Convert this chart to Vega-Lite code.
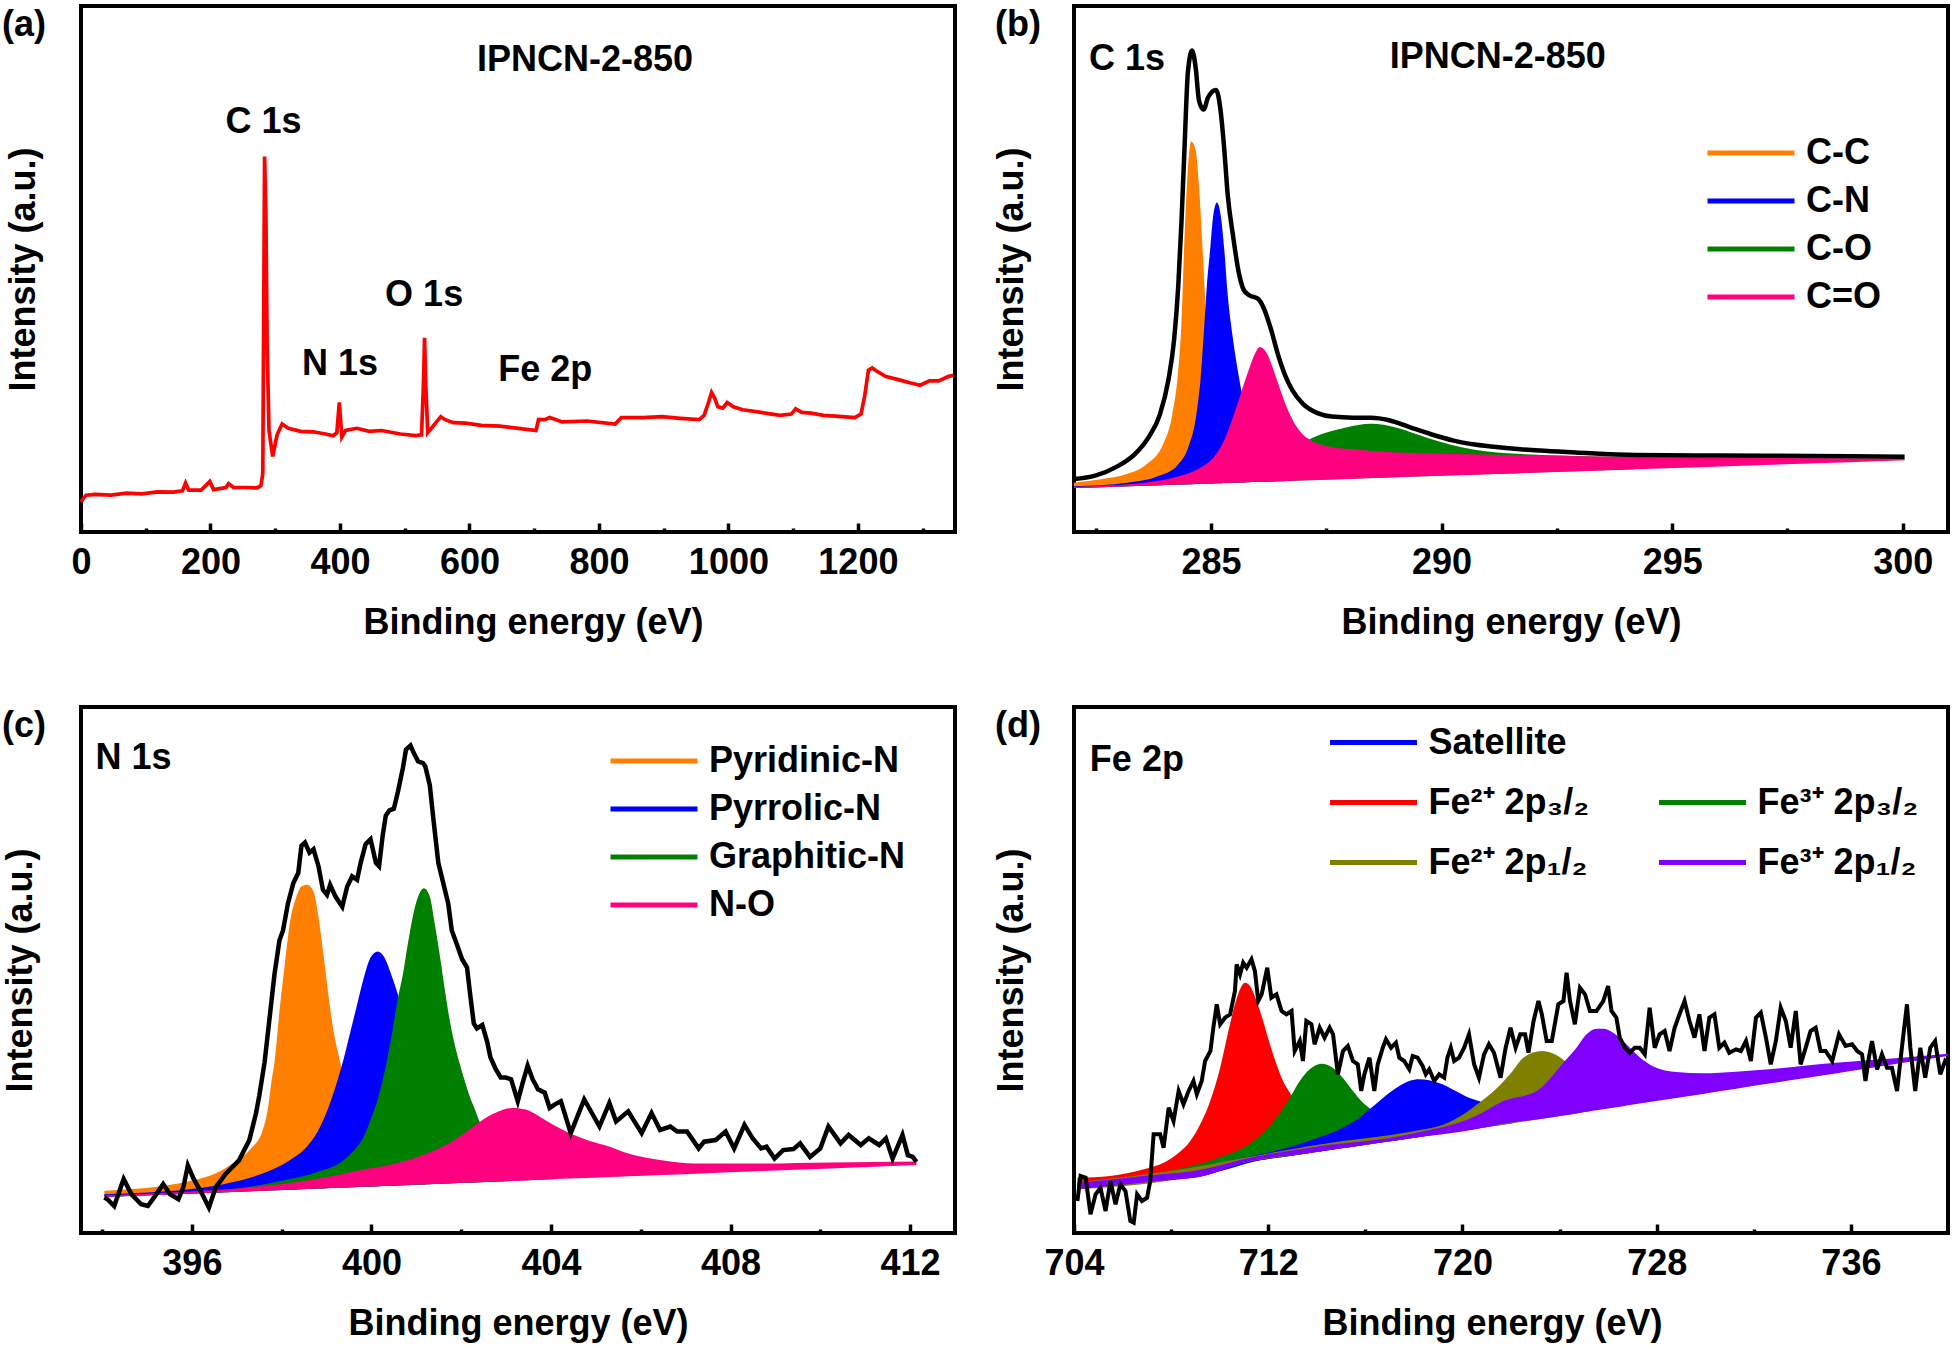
{
"$schema": "https://vega.github.io/schema/vega-lite/v6.json",
"padding": {"left": 0, "top": 4, "right": 0, "bottom": 0},
"background": "white",
"config": {
  "font": "Liberation Sans",
  "view": {"stroke": "black", "strokeWidth": 4},
  "axis": {"grid": false, "domain": false, "labelFont": "Liberation Sans", "labelFontSize": 36, "labelFontWeight": "bold", "labelColor": "black", "titleFont": "Liberation Sans", "titleFontSize": 36, "titleFontWeight": "bold", "titleColor": "black"},
  "axisX": {"tickColor": "black", "tickWidth": 3.5, "labelFlush": false, "labelOverlap": false, "labelPadding": 22.5, "titlePadding": 20},
  "axisY": {"labels": false, "ticks": false},
  "legend": {"orient": "none", "title": null, "labelFont": "Liberation Sans", "labelFontSize": 36, "labelFontWeight": "bold", "labelColor": "black", "labelLimit": 500, "symbolType": "M-3,0H3", "symbolSize": 841, "symbolStrokeWidth": 5, "symbolOffset": 29, "labelOffset": 37, "rowPadding": 12, "padding": 0, "offset": 0},
  "title": {"font": "Liberation Sans", "fontSize": 36, "fontWeight": "bold", "color": "black", "anchor": "start", "frame": "group", "baseline": "top", "offset": -38, "dx": -79}
},
"datasets": {
  "survey": [{"E":0,"top":30.3},{"E":7.7,"top":36.8},{"E":22.1,"top":37.6},{"E":46.2,"top":36.8},{"E":70.2,"top":38.9},{"E":94.2,"top":38.1},{"E":118.3,"top":40.2},{"E":142.3,"top":39.8},{"E":156.7,"top":41.1},{"E":161.5,"top":48.9},{"E":166.3,"top":41.9},{"E":185.6,"top":41.9},{"E":199,"top":50.6},{"E":204.8,"top":42.4},{"E":224,"top":44.5},{"E":227.9,"top":48.4},{"E":235.6,"top":44.5},{"E":252.9,"top":44.5},{"E":272.1,"top":44.1},{"E":277.9,"top":46.3},{"E":280.8,"top":58.3},{"E":282.7,"top":274.1},{"E":283.6,"top":375.5},{"E":285.6,"top":317.2},{"E":287.5,"top":187.8},{"E":290.4,"top":101.5},{"E":296.1,"top":75.6},{"E":302.9,"top":97.2},{"E":310.6,"top":108},{"E":320.2,"top":103.7},{"E":339.4,"top":100.6},{"E":358.6,"top":100.2},{"E":377.9,"top":98},{"E":389.4,"top":96.3},{"E":395.2,"top":99.3},{"E":399,"top":129.5},{"E":402.9,"top":95},{"E":408.6,"top":101.5},{"E":426,"top":103.7},{"E":445.2,"top":100.6},{"E":464.4,"top":101.5},{"E":493.3,"top":98},{"E":517.3,"top":96.3},{"E":526,"top":97.2},{"E":528.8,"top":144.6},{"E":530.7,"top":194.3},{"E":532.7,"top":144.6},{"E":535.6,"top":99.3},{"E":541.3,"top":103.7},{"E":549,"top":110.1},{"E":555.8,"top":115.3},{"E":562.5,"top":112.3},{"E":575,"top":109.3},{"E":594.2,"top":108.8},{"E":618.3,"top":106.7},{"E":647.1,"top":105.8},{"E":676,"top":103.7},{"E":702.9,"top":101.5},{"E":706.7,"top":112.3},{"E":716.3,"top":112.3},{"E":724,"top":114.4},{"E":743.2,"top":110.1},{"E":781.7,"top":111},{"E":825,"top":108},{"E":834.6,"top":114.4},{"E":868.2,"top":114.4},{"E":897.1,"top":115.3},{"E":925.9,"top":113.6},{"E":954.8,"top":112.3},{"E":962.5,"top":116.6},{"E":969.2,"top":129.5},{"E":974,"top":139.5},{"E":978.8,"top":133.9},{"E":983.6,"top":125.2},{"E":991.3,"top":123.9},{"E":998.1,"top":129.5},{"E":1007.6,"top":125.2},{"E":1022.1,"top":122.2},{"E":1050.9,"top":119.6},{"E":1079.8,"top":116.6},{"E":1097.1,"top":117.9},{"E":1103.8,"top":123.1},{"E":1113.4,"top":119.6},{"E":1127.8,"top":118.8},{"E":1147.1,"top":116.6},{"E":1171.1,"top":115.7},{"E":1195.1,"top":114.4},{"E":1204.8,"top":117.9},{"E":1210.5,"top":136},{"E":1216.3,"top":161.9},{"E":1222.1,"top":164.1},{"E":1228.8,"top":161},{"E":1243.2,"top":155.4},{"E":1262.5,"top":152.4},{"E":1281.7,"top":149},{"E":1296.1,"top":146.8},{"E":1310.5,"top":151.1},{"E":1324.9,"top":151.1},{"E":1339.4,"top":155.4},{"E":1347.1,"top":156.7}],
  "a_lab": [{"label":"IPNCN-2-850","E":778.6,"top":472},{"label":"C 1s","E":282,"top":410},{"label":"N 1s","E":400,"top":168.5},{"label":"O 1s","E":530,"top":237.5},{"label":"Fe 2p","E":717,"top":162}],
  "b_lab": [{"label":"C 1s","E":283.18,"top":473},{"label":"IPNCN-2-850","E":291.22,"top":474.6}],
  "c_lab": [{"label":"N 1s","E":394.7,"top":475}],
  "d_lab": [{"label":"Fe 2p","E":706.59,"top":473}],
  "b_env": [{"E":282.03,"top":52.9},{"E":282.49,"top":56.4},{"E":282.96,"top":65.4},{"E":283.35,"top":77.9},{"E":283.66,"top":95.7},{"E":283.89,"top":117.1},{"E":284.08,"top":152.9},{"E":284.2,"top":192.1},{"E":284.29,"top":245.7},{"E":284.36,"top":310},{"E":284.43,"top":388.6},{"E":284.5,"top":460},{"E":284.59,"top":481.4},{"E":284.67,"top":463.6},{"E":284.74,"top":431.4},{"E":284.84,"top":422.5},{"E":284.94,"top":435},{"E":285.11,"top":442.1},{"E":285.21,"top":420.7},{"E":285.29,"top":381.4},{"E":285.36,"top":338.6},{"E":285.48,"top":295.7},{"E":285.6,"top":260},{"E":285.71,"top":242.1},{"E":285.83,"top":236.8},{"E":286.02,"top":233.2},{"E":286.14,"top":224.3},{"E":286.3,"top":202.9},{"E":286.45,"top":177.9},{"E":286.61,"top":156.4},{"E":286.76,"top":142.1},{"E":287,"top":127.9},{"E":287.31,"top":118.9},{"E":287.62,"top":115.4},{"E":288.08,"top":114.3},{"E":288.47,"top":114.3},{"E":288.86,"top":111.8},{"E":289.32,"top":104.6},{"E":289.79,"top":97.5},{"E":290.26,"top":91.4},{"E":290.72,"top":87.5},{"E":291.34,"top":84.3},{"E":292.12,"top":81.4},{"E":292.9,"top":79.6},{"E":294.2,"top":77.1},{"E":296,"top":76.5},{"E":298,"top":76},{"E":300.04,"top":75.3}],
  "b_comp": [
    {"series":"C-C","E":282.03,"top":49.3,"base":43.9},{"series":"C-C","E":282.65,"top":52.9,"base":44.9},{"series":"C-C","E":283.19,"top":58.2,"base":45.7},{"series":"C-C","E":283.58,"top":67.1,"base":46.3},{"series":"C-C","E":283.97,"top":88.6,"base":46.9},{"series":"C-C","E":284.16,"top":117.1,"base":47.2},{"series":"C-C","E":284.28,"top":156.4,"base":47.4},{"series":"C-C","E":284.36,"top":210,"base":47.5},{"series":"C-C","E":284.43,"top":299.3,"base":47.6},{"series":"C-C","E":284.5,"top":363.6,"base":47.7},{"series":"C-C","E":284.57,"top":390.4,"base":47.8},{"series":"C-C","E":284.67,"top":381.4,"base":48},{"series":"C-C","E":284.74,"top":345.7,"base":48.1},{"series":"C-C","E":284.82,"top":281.4,"base":48.2},{"series":"C-C","E":284.9,"top":210,"base":48.3},{"series":"C-C","E":285.02,"top":138.6,"base":48.5},{"series":"C-C","E":285.13,"top":102.9,"base":48.7},{"series":"C-C","E":285.29,"top":81.4,"base":49},{"series":"C-C","E":285.6,"top":67.1,"base":49.4},{"series":"C-C","E":286.3,"top":60,"base":50.5},
    {"series":"C-N","E":282.03,"top":45.7,"base":43.9},{"series":"C-N","E":283.19,"top":49.3,"base":45.7},{"series":"C-N","E":283.89,"top":56.4,"base":46.8},{"series":"C-N","E":284.28,"top":67.1,"base":47.4},{"series":"C-N","E":284.51,"top":85,"base":47.7},{"series":"C-N","E":284.67,"top":113.6,"base":48},{"series":"C-N","E":284.78,"top":156.4,"base":48.2},{"series":"C-N","E":284.86,"top":210,"base":48.3},{"series":"C-N","E":284.91,"top":245.7,"base":48.4},{"series":"C-N","E":284.98,"top":281.4,"base":48.5},{"series":"C-N","E":285.05,"top":317.1,"base":48.6},{"series":"C-N","E":285.13,"top":329.6,"base":48.7},{"series":"C-N","E":285.21,"top":317.1,"base":48.8},{"series":"C-N","E":285.29,"top":281.4,"base":49},{"series":"C-N","E":285.36,"top":238.6,"base":49.1},{"series":"C-N","E":285.48,"top":192.1,"base":49.3},{"series":"C-N","E":285.6,"top":156.4,"base":49.4},{"series":"C-N","E":285.75,"top":120.7,"base":49.7},{"series":"C-N","E":285.91,"top":95.7,"base":49.9},{"series":"C-N","E":286.22,"top":74.3,"base":50.4},{"series":"C-N","E":286.68,"top":67.1,"base":51.1},
    {"series":"C-O","E":282.03,"top":45,"base":43.9},{"series":"C-O","E":284.36,"top":52.9,"base":47.5},{"series":"C-O","E":285.91,"top":70.7,"base":49.9},{"series":"C-O","E":286.68,"top":79.6,"base":51.1},{"series":"C-O","E":287.19,"top":93.9,"base":51.9},{"series":"C-O","E":287.93,"top":104.6,"base":53},{"series":"C-O","E":288.47,"top":108.2,"base":53.9},{"series":"C-O","E":289.01,"top":104.6,"base":54.7},{"series":"C-O","E":289.48,"top":97.5,"base":55.4},{"series":"C-O","E":289.95,"top":90.4,"base":56.2},{"series":"C-O","E":290.41,"top":85,"base":56.9},{"series":"C-O","E":290.95,"top":80.7,"base":57.7},{"series":"C-O","E":291.73,"top":77.9,"base":59},{"series":"C-O","E":292.9,"top":76.1,"base":60.7},{"series":"C-O","E":294.2,"top":75,"base":62.8},
    {"series":"C=O","E":282.03,"top":45,"base":43.9},{"series":"C=O","E":282.8,"top":46.4,"base":45.1},{"series":"C=O","E":283.58,"top":49.3,"base":46.3},{"series":"C=O","E":284.36,"top":56.4,"base":47.5},{"series":"C=O","E":284.74,"top":63.6,"base":48.1},{"series":"C=O","E":285.05,"top":74.3,"base":48.6},{"series":"C=O","E":285.29,"top":92.1,"base":49},{"series":"C=O","E":285.44,"top":110,"base":49.2},{"series":"C=O","E":285.6,"top":131.4,"base":49.4},{"series":"C=O","E":285.71,"top":147.5,"base":49.6},{"series":"C=O","E":285.83,"top":163.6,"base":49.8},{"series":"C=O","E":285.95,"top":177.9,"base":50},{"series":"C=O","E":286.06,"top":185,"base":50.1},{"series":"C=O","E":286.22,"top":177.9,"base":50.4},{"series":"C=O","E":286.37,"top":160,"base":50.6},{"series":"C=O","E":286.53,"top":138.6,"base":50.9},{"series":"C=O","E":286.68,"top":120.7,"base":51.1},{"series":"C=O","E":286.84,"top":106.4,"base":51.4},{"series":"C=O","E":286.99,"top":97.5,"base":51.6},{"series":"C=O","E":287.15,"top":92.1,"base":51.8},{"series":"C=O","E":287.31,"top":88.6,"base":52.1},{"series":"C=O","E":287.62,"top":85,"base":52.6},{"series":"C=O","E":288.24,"top":82.1,"base":53.5},{"series":"C=O","E":289.01,"top":79.6,"base":54.7},{"series":"C=O","E":289.79,"top":78.6,"base":55.9},{"series":"C=O","E":291.34,"top":77.1,"base":58.3},{"series":"C=O","E":294.2,"top":75,"base":62.8},{"series":"C=O","E":297,"top":74.2,"base":67.1},{"series":"C=O","E":300.04,"top":73.5,"base":71.8}
  ],
  "c_env": [{"E":394.05,"top":35.5},{"E":394.12,"top":33.8},{"E":394.27,"top":27},{"E":394.48,"top":54.1},{"E":394.65,"top":38.9},{"E":394.87,"top":28.7},{"E":395.02,"top":27},{"E":395.21,"top":38.9},{"E":395.36,"top":49},{"E":395.51,"top":38.9},{"E":395.7,"top":33.8},{"E":395.81,"top":45.6},{"E":395.91,"top":67.6},{"E":396.04,"top":54.1},{"E":396.23,"top":38.9},{"E":396.38,"top":25.3},{"E":396.53,"top":45.6},{"E":396.75,"top":59.1},{"E":397.05,"top":72.7},{"E":397.28,"top":92.9},{"E":397.43,"top":120},{"E":397.5,"top":136.9},{"E":397.62,"top":170.7},{"E":397.73,"top":214.7},{"E":397.84,"top":258.6},{"E":397.95,"top":292.4},{"E":398.03,"top":302.6},{"E":398.14,"top":329.6},{"E":398.26,"top":349.9},{"E":398.37,"top":360},{"E":398.44,"top":387.1},{"E":398.52,"top":390.5},{"E":398.62,"top":380.3},{"E":398.71,"top":383.7},{"E":398.82,"top":366.8},{"E":398.92,"top":343.1},{"E":399.01,"top":338.1},{"E":399.08,"top":348.2},{"E":399.2,"top":336.4},{"E":399.35,"top":326.2},{"E":399.46,"top":346.5},{"E":399.57,"top":356.6},{"E":399.68,"top":353.3},{"E":399.76,"top":370.2},{"E":399.87,"top":388.8},{"E":399.98,"top":393.8},{"E":400.1,"top":370.2},{"E":400.17,"top":366.8},{"E":400.25,"top":397.2},{"E":400.32,"top":417.5},{"E":400.4,"top":422.6},{"E":400.5,"top":424.3},{"E":400.59,"top":441.2},{"E":400.7,"top":464.8},{"E":400.77,"top":483.4},{"E":400.87,"top":487.5},{"E":400.96,"top":478.4},{"E":401.04,"top":471.6},{"E":401.15,"top":469.9},{"E":401.2,"top":466.5},{"E":401.3,"top":447.9},{"E":401.38,"top":414.1},{"E":401.49,"top":370.2},{"E":401.6,"top":349.9},{"E":401.71,"top":329.6},{"E":401.79,"top":302.6},{"E":401.9,"top":289},{"E":402.02,"top":273.8},{"E":402.13,"top":265.4},{"E":402.2,"top":238.3},{"E":402.28,"top":209.6},{"E":402.35,"top":204.5},{"E":402.47,"top":207.9},{"E":402.58,"top":191},{"E":402.65,"top":175.8},{"E":402.77,"top":163.9},{"E":402.88,"top":155.5},{"E":402.99,"top":155.5},{"E":403.11,"top":153.8},{"E":403.26,"top":131.8},{"E":403.37,"top":150.4},{"E":403.48,"top":167.3},{"E":403.59,"top":153.8},{"E":403.71,"top":143.7},{"E":403.86,"top":140.3},{"E":403.97,"top":125.1},{"E":404.08,"top":128.4},{"E":404.22,"top":131.8},{"E":404.44,"top":99.8},{"E":404.74,"top":133.5},{"E":405.08,"top":106.5},{"E":405.3,"top":130.1},{"E":405.45,"top":111.6},{"E":405.72,"top":121.7},{"E":406.02,"top":99.8},{"E":406.24,"top":120},{"E":406.43,"top":103.1},{"E":406.66,"top":106.5},{"E":406.81,"top":101.5},{"E":407.03,"top":101.5},{"E":407.29,"top":84.6},{"E":407.41,"top":91.3},{"E":407.67,"top":93},{"E":407.89,"top":101.5},{"E":408.08,"top":84.6},{"E":408.31,"top":108.2},{"E":408.49,"top":94.7},{"E":408.68,"top":84.6},{"E":408.8,"top":86.3},{"E":408.98,"top":74.4},{"E":409.17,"top":82.9},{"E":409.4,"top":83.9},{"E":409.55,"top":89.6},{"E":409.77,"top":76.1},{"E":410,"top":84.6},{"E":410.18,"top":106.5},{"E":410.45,"top":89.6},{"E":410.63,"top":98.1},{"E":410.9,"top":88},{"E":411.08,"top":94.7},{"E":411.31,"top":88},{"E":411.46,"top":94.7},{"E":411.61,"top":74.4},{"E":411.83,"top":98.1},{"E":411.95,"top":77.8},{"E":412.06,"top":76.1},{"E":412.14,"top":71.1}],
  "c_comp": [
    {"series":"Pyridinic-N","E":394.05,"top":42.2,"base":36},{"series":"Pyridinic-N","E":394.65,"top":43.9,"base":37.1},{"series":"Pyridinic-N","E":395.4,"top":47.3,"base":38.4},{"series":"Pyridinic-N","E":396,"top":52.4,"base":39.5},{"series":"Pyridinic-N","E":396.53,"top":59.8,"base":40.4},{"series":"Pyridinic-N","E":396.9,"top":69.3,"base":41},{"series":"Pyridinic-N","E":397.28,"top":82.8,"base":41.7},{"series":"Pyridinic-N","E":397.58,"top":103.1,"base":42.2},{"series":"Pyridinic-N","E":397.69,"top":123.4,"base":42.4},{"series":"Pyridinic-N","E":397.77,"top":150.4,"base":42.6},{"series":"Pyridinic-N","E":397.84,"top":170.7,"base":42.7},{"series":"Pyridinic-N","E":397.95,"top":221.4,"base":42.9},{"series":"Pyridinic-N","E":398.07,"top":268.7,"base":43.1},{"series":"Pyridinic-N","E":398.18,"top":309.3,"base":43.3},{"series":"Pyridinic-N","E":398.33,"top":336.4,"base":43.6},{"series":"Pyridinic-N","E":398.44,"top":346.5,"base":43.8},{"series":"Pyridinic-N","E":398.57,"top":348.2,"base":44},{"series":"Pyridinic-N","E":398.71,"top":341.4,"base":44.2},{"series":"Pyridinic-N","E":398.82,"top":316.1,"base":44.4},{"series":"Pyridinic-N","E":398.93,"top":278.9,"base":44.6},{"series":"Pyridinic-N","E":399.05,"top":234.9,"base":44.9},{"series":"Pyridinic-N","E":399.16,"top":201.1,"base":45},{"series":"Pyridinic-N","E":399.27,"top":177.5,"base":45.2},{"series":"Pyridinic-N","E":399.38,"top":157.2,"base":45.4},{"series":"Pyridinic-N","E":399.53,"top":136.9,"base":45.7},{"series":"Pyridinic-N","E":399.76,"top":116.6,"base":46.1},{"series":"Pyridinic-N","E":400.06,"top":99.7,"base":46.6},{"series":"Pyridinic-N","E":400.66,"top":79.4,"base":47.7},{"series":"Pyridinic-N","E":401.79,"top":62.5,"base":49.7},{"series":"Pyridinic-N","E":403.29,"top":54.1,"base":52.4},
    {"series":"Pyrrolic-N","E":394.05,"top":38.8,"base":36},{"series":"Pyrrolic-N","E":395.02,"top":40.5,"base":37.7},{"series":"Pyrrolic-N","E":396,"top":43.9,"base":39.5},{"series":"Pyrrolic-N","E":396.9,"top":50.7,"base":41},{"series":"Pyrrolic-N","E":397.65,"top":60.8,"base":42.4},{"series":"Pyrrolic-N","E":398.18,"top":72.7,"base":43.3},{"series":"Pyrrolic-N","E":398.56,"top":86.2,"base":44},{"series":"Pyrrolic-N","E":398.78,"top":99.7,"base":44.4},{"series":"Pyrrolic-N","E":398.93,"top":113.2,"base":44.6},{"series":"Pyrrolic-N","E":399.08,"top":130.1,"base":44.9},{"series":"Pyrrolic-N","E":399.23,"top":150.4,"base":45.2},{"series":"Pyrrolic-N","E":399.38,"top":174.1,"base":45.4},{"series":"Pyrrolic-N","E":399.53,"top":201.1,"base":45.7},{"series":"Pyrrolic-N","E":399.68,"top":228.2,"base":46},{"series":"Pyrrolic-N","E":399.83,"top":255.2,"base":46.2},{"series":"Pyrrolic-N","E":399.98,"top":275.5,"base":46.5},{"series":"Pyrrolic-N","E":400.14,"top":281.6,"base":46.8},{"series":"Pyrrolic-N","E":400.29,"top":275.5,"base":47},{"series":"Pyrrolic-N","E":400.44,"top":258.6,"base":47.3},{"series":"Pyrrolic-N","E":400.59,"top":238.3,"base":47.6},{"series":"Pyrrolic-N","E":400.74,"top":211.3,"base":47.8},{"series":"Pyrrolic-N","E":400.89,"top":184.2,"base":48.1},{"series":"Pyrrolic-N","E":401.04,"top":160.6,"base":48.4},{"series":"Pyrrolic-N","E":401.26,"top":133.5,"base":48.8},{"series":"Pyrrolic-N","E":401.56,"top":109.8,"base":49.3},{"series":"Pyrrolic-N","E":401.94,"top":89.6,"base":50},{"series":"Pyrrolic-N","E":402.54,"top":72.7,"base":51},{"series":"Pyrrolic-N","E":403.29,"top":62.5,"base":52.4},
    {"series":"Graphitic-N","E":394.05,"top":37.2,"base":36},{"series":"Graphitic-N","E":395.77,"top":40.5,"base":39},{"series":"Graphitic-N","E":396.9,"top":43.9,"base":41},{"series":"Graphitic-N","E":398.03,"top":52.4,"base":43},{"series":"Graphitic-N","E":398.78,"top":60.8,"base":44.4},{"series":"Graphitic-N","E":399.38,"top":72.7,"base":45.4},{"series":"Graphitic-N","E":399.68,"top":86.2,"base":46},{"series":"Graphitic-N","E":399.83,"top":96.3,"base":46.2},{"series":"Graphitic-N","E":399.98,"top":113.2,"base":46.5},{"series":"Graphitic-N","E":400.14,"top":133.5,"base":46.8},{"series":"Graphitic-N","E":400.29,"top":160.6,"base":47},{"series":"Graphitic-N","E":400.44,"top":194.4,"base":47.3},{"series":"Graphitic-N","E":400.59,"top":234.9,"base":47.6},{"series":"Graphitic-N","E":400.7,"top":258.6,"base":47.8},{"series":"Graphitic-N","E":400.81,"top":289,"base":48},{"series":"Graphitic-N","E":400.92,"top":316.1,"base":48.2},{"series":"Graphitic-N","E":401.04,"top":336.4,"base":48.4},{"series":"Graphitic-N","E":401.17,"top":344.8,"base":48.6},{"series":"Graphitic-N","E":401.3,"top":336.4,"base":48.8},{"series":"Graphitic-N","E":401.41,"top":309.3,"base":49},{"series":"Graphitic-N","E":401.53,"top":275.5,"base":49.2},{"series":"Graphitic-N","E":401.64,"top":241.7,"base":49.4},{"series":"Graphitic-N","E":401.75,"top":211.3,"base":49.6},{"series":"Graphitic-N","E":401.86,"top":187.6,"base":49.8},{"series":"Graphitic-N","E":401.98,"top":167.3,"base":50},{"series":"Graphitic-N","E":402.09,"top":150.4,"base":50.2},{"series":"Graphitic-N","E":402.2,"top":135.2,"base":50.4},{"series":"Graphitic-N","E":402.32,"top":121.7,"base":50.6},{"series":"Graphitic-N","E":402.39,"top":113.2,"base":50.8},{"series":"Graphitic-N","E":402.69,"top":92.9,"base":51.3},{"series":"Graphitic-N","E":403.29,"top":72.7,"base":52.4},{"series":"Graphitic-N","E":404.05,"top":62.5,"base":53.7},
    {"series":"N-O","E":394.05,"top":37.5,"base":36},{"series":"N-O","E":395.02,"top":39.5,"base":37.7},{"series":"N-O","E":395.77,"top":41,"base":39},{"series":"N-O","E":396.53,"top":43,"base":40.4},{"series":"N-O","E":397.28,"top":45.6,"base":41.7},{"series":"N-O","E":398.03,"top":49,"base":43},{"series":"N-O","E":398.78,"top":54.1,"base":44.4},{"series":"N-O","E":399.53,"top":60.8,"base":45.7},{"series":"N-O","E":399.91,"top":64.2,"base":46.4},{"series":"N-O","E":400.29,"top":66.9,"base":47},{"series":"N-O","E":400.66,"top":71,"base":47.7},{"series":"N-O","E":401.04,"top":76,"base":48.4},{"series":"N-O","E":401.41,"top":82.8,"base":49},{"series":"N-O","E":401.79,"top":91.3,"base":49.7},{"series":"N-O","E":402.17,"top":103.1,"base":50.4},{"series":"N-O","E":402.54,"top":114.9,"base":51},{"series":"N-O","E":402.84,"top":121.7,"base":51.6},{"series":"N-O","E":403.14,"top":125.1,"base":52.1},{"series":"N-O","E":403.44,"top":123.4,"base":52.6},{"series":"N-O","E":403.74,"top":116.6,"base":53.2},{"series":"N-O","E":404.05,"top":108.2,"base":53.7},{"series":"N-O","E":404.42,"top":99.7,"base":54.4},{"series":"N-O","E":404.8,"top":93,"base":55},{"series":"N-O","E":405.31,"top":86.2,"base":55.9},{"series":"N-O","E":405.72,"top":79.5,"base":56.7},{"series":"N-O","E":406.47,"top":72.7,"base":58},{"series":"N-O","E":407.22,"top":69.4,"base":59.3},{"series":"N-O","E":408.72,"top":69.4,"base":62},{"series":"N-O","E":410.22,"top":70.4,"base":64.6},{"series":"N-O","E":412.14,"top":71.5,"base":68}
  ],
  "d_env": [{"E":704.14,"top":32},{"E":704.27,"top":57},{"E":704.48,"top":55.3},{"E":704.68,"top":18.7},{"E":704.89,"top":38.7},{"E":705.09,"top":45.3},{"E":705.3,"top":22},{"E":705.5,"top":52},{"E":705.71,"top":28.7},{"E":705.91,"top":48.7},{"E":706.12,"top":42},{"E":706.32,"top":12},{"E":706.46,"top":10.3},{"E":706.6,"top":38.7},{"E":706.8,"top":32},{"E":707.01,"top":35.3},{"E":707.14,"top":52},{"E":707.28,"top":98.7},{"E":707.55,"top":98.7},{"E":707.69,"top":85.3},{"E":707.9,"top":125.3},{"E":708.1,"top":112},{"E":708.31,"top":142},{"E":708.51,"top":128.7},{"E":708.72,"top":142},{"E":708.92,"top":152},{"E":709.06,"top":138.7},{"E":709.26,"top":152},{"E":709.4,"top":172},{"E":709.62,"top":182},{"E":709.74,"top":205.3},{"E":709.88,"top":228.7},{"E":710.02,"top":208.7},{"E":710.22,"top":215.3},{"E":710.43,"top":218.7},{"E":710.63,"top":242},{"E":710.7,"top":268.7},{"E":710.84,"top":258.7},{"E":710.97,"top":270.3},{"E":711.11,"top":265.3},{"E":711.31,"top":273.7},{"E":711.45,"top":262},{"E":711.59,"top":232},{"E":711.73,"top":238.7},{"E":711.96,"top":265.3},{"E":712.13,"top":235.3},{"E":712.34,"top":238.7},{"E":712.55,"top":222},{"E":712.75,"top":218.7},{"E":712.96,"top":222},{"E":713.09,"top":182},{"E":713.3,"top":192},{"E":713.43,"top":172},{"E":713.57,"top":212},{"E":713.78,"top":208.7},{"E":713.91,"top":188.7},{"E":714.12,"top":205.3},{"E":714.32,"top":195.3},{"E":714.53,"top":205.3},{"E":714.67,"top":198.7},{"E":714.87,"top":158.7},{"E":715.08,"top":182},{"E":715.28,"top":187},{"E":715.49,"top":172},{"E":715.69,"top":168.7},{"E":715.83,"top":142},{"E":715.96,"top":158.7},{"E":716.17,"top":175.3},{"E":716.37,"top":142},{"E":716.51,"top":168.7},{"E":716.72,"top":185.3},{"E":716.85,"top":193.7},{"E":717.06,"top":185.3},{"E":717.26,"top":190.3},{"E":717.4,"top":175.3},{"E":717.6,"top":172},{"E":717.81,"top":163.7},{"E":717.95,"top":177},{"E":718.15,"top":175.3},{"E":718.36,"top":167},{"E":718.49,"top":158.7},{"E":718.63,"top":163.7},{"E":718.84,"top":152},{"E":719.04,"top":158.7},{"E":719.25,"top":155.3},{"E":719.38,"top":175.3},{"E":719.52,"top":185.3},{"E":719.66,"top":172},{"E":719.86,"top":175.3},{"E":720.07,"top":185.3},{"E":720.27,"top":198.7},{"E":720.48,"top":168.7},{"E":720.68,"top":155.3},{"E":720.89,"top":178.7},{"E":721.09,"top":188.7},{"E":721.3,"top":180.3},{"E":721.57,"top":155.3},{"E":721.78,"top":185.3},{"E":721.98,"top":205.3},{"E":722.19,"top":185.3},{"E":722.38,"top":198.7},{"E":722.58,"top":198.7},{"E":722.72,"top":180.3},{"E":722.93,"top":212},{"E":723.13,"top":232},{"E":723.27,"top":218.7},{"E":723.47,"top":192},{"E":723.68,"top":192},{"E":723.95,"top":228.7},{"E":724.16,"top":232},{"E":724.29,"top":260.3},{"E":724.43,"top":232},{"E":724.63,"top":208.7},{"E":724.84,"top":245.3},{"E":725.05,"top":238.7},{"E":725.25,"top":222},{"E":725.52,"top":222},{"E":725.8,"top":232},{"E":726,"top":247},{"E":726.14,"top":222},{"E":726.34,"top":215.3},{"E":726.48,"top":195.3},{"E":726.69,"top":185.3},{"E":726.89,"top":180.3},{"E":727.1,"top":185.3},{"E":727.3,"top":185.3},{"E":727.51,"top":178.7},{"E":727.71,"top":225.3},{"E":727.92,"top":185.3},{"E":728.12,"top":198.7},{"E":728.33,"top":202},{"E":728.53,"top":182},{"E":728.74,"top":205.3},{"E":728.94,"top":218.7},{"E":729.15,"top":232},{"E":729.35,"top":212},{"E":729.56,"top":195.3},{"E":729.76,"top":218.7},{"E":729.97,"top":182},{"E":730.17,"top":215.3},{"E":730.38,"top":218.7},{"E":730.58,"top":185.3},{"E":730.79,"top":190.3},{"E":730.99,"top":180.3},{"E":731.27,"top":183.7},{"E":731.47,"top":182},{"E":731.68,"top":192},{"E":731.88,"top":172},{"E":732.09,"top":215.3},{"E":732.29,"top":220.3},{"E":732.5,"top":195.3},{"E":732.7,"top":168.7},{"E":732.91,"top":192},{"E":733.11,"top":225.3},{"E":733.32,"top":212},{"E":733.52,"top":185.3},{"E":733.73,"top":222},{"E":733.93,"top":168.7},{"E":734.14,"top":185.3},{"E":734.34,"top":202},{"E":734.55,"top":205.3},{"E":734.75,"top":182},{"E":734.96,"top":182},{"E":735.23,"top":172},{"E":735.51,"top":198.7},{"E":735.78,"top":187},{"E":736.05,"top":188.7},{"E":736.26,"top":182},{"E":736.46,"top":178.7},{"E":736.6,"top":152},{"E":736.74,"top":175.3},{"E":736.87,"top":192},{"E":737.08,"top":163.7},{"E":737.28,"top":178.7},{"E":737.49,"top":165.3},{"E":737.69,"top":165.3},{"E":737.9,"top":142},{"E":738.1,"top":185.3},{"E":738.31,"top":228.7},{"E":738.45,"top":185.3},{"E":738.65,"top":142},{"E":738.86,"top":185.3},{"E":739.06,"top":155.3},{"E":739.27,"top":185.3},{"E":739.47,"top":192},{"E":739.68,"top":158.7},{"E":739.88,"top":172},{"E":740,"top":168.7}],
  "d_comp": [
    {"series":"Fe²⁺ 2p₃/₂","E":704.14,"top":55.3,"base":43.7},{"series":"Fe²⁺ 2p₃/₂","E":705.5,"top":57,"base":47.1},{"series":"Fe²⁺ 2p₃/₂","E":706.87,"top":63.7,"base":50.6},{"series":"Fe²⁺ 2p₃/₂","E":707.69,"top":70.3,"base":52.6},{"series":"Fe²⁺ 2p₃/₂","E":708.24,"top":78.7,"base":54},{"series":"Fe²⁺ 2p₃/₂","E":708.79,"top":92,"base":55.4},{"series":"Fe²⁺ 2p₃/₂","E":709.2,"top":108.7,"base":56.4},{"series":"Fe²⁺ 2p₃/₂","E":709.61,"top":132,"base":59.3},{"series":"Fe²⁺ 2p₃/₂","E":710.02,"top":165.3,"base":62.6},{"series":"Fe²⁺ 2p₃/₂","E":710.36,"top":202,"base":65.4},{"series":"Fe²⁺ 2p₃/₂","E":710.63,"top":228.7,"base":67.5},{"series":"Fe²⁺ 2p₃/₂","E":710.84,"top":243.7,"base":69.2},{"series":"Fe²⁺ 2p₃/₂","E":711.04,"top":250.3,"base":70.5},{"series":"Fe²⁺ 2p₃/₂","E":711.25,"top":247,"base":71.3},{"series":"Fe²⁺ 2p₃/₂","E":711.52,"top":232,"base":72.3},{"series":"Fe²⁺ 2p₃/₂","E":711.79,"top":212,"base":73.2},{"series":"Fe²⁺ 2p₃/₂","E":712.07,"top":188.7,"base":74.2},{"series":"Fe²⁺ 2p₃/₂","E":712.34,"top":168.7,"base":75.2},{"series":"Fe²⁺ 2p₃/₂","E":712.61,"top":152,"base":76.1},{"series":"Fe²⁺ 2p₃/₂","E":712.89,"top":140.3,"base":77.1},{"series":"Fe²⁺ 2p₃/₂","E":713.3,"top":123.7,"base":78.6},{"series":"Fe²⁺ 2p₃/₂","E":713.84,"top":105.3,"base":80.5},{"series":"Fe²⁺ 2p₃/₂","E":714.53,"top":88.7,"base":83},
    {"series":"Fe³⁺ 2p₃/₂","E":704.14,"top":50.3,"base":43.7},{"series":"Fe³⁺ 2p₃/₂","E":706.87,"top":57,"base":50.6},{"series":"Fe³⁺ 2p₃/₂","E":708.24,"top":63.7,"base":54},{"series":"Fe³⁺ 2p₃/₂","E":709.33,"top":70.3,"base":57},{"series":"Fe³⁺ 2p₃/₂","E":710.15,"top":77,"base":63.6},{"series":"Fe³⁺ 2p₃/₂","E":710.97,"top":85.3,"base":70.3},{"series":"Fe³⁺ 2p₃/₂","E":711.79,"top":100.3,"base":73.2},{"series":"Fe³⁺ 2p₃/₂","E":712.34,"top":115.3,"base":75.2},{"series":"Fe³⁺ 2p₃/₂","E":712.89,"top":135.3,"base":77.1},{"series":"Fe³⁺ 2p₃/₂","E":713.3,"top":152,"base":78.6},{"series":"Fe³⁺ 2p₃/₂","E":713.71,"top":163.7,"base":80},{"series":"Fe³⁺ 2p₃/₂","E":714.19,"top":169.3,"base":81.7},{"series":"Fe³⁺ 2p₃/₂","E":714.66,"top":165.3,"base":83.4},{"series":"Fe³⁺ 2p₃/₂","E":715.07,"top":155.3,"base":84.9},{"series":"Fe³⁺ 2p₃/₂","E":715.49,"top":142,"base":86.3},{"series":"Fe³⁺ 2p₃/₂","E":715.9,"top":130.3,"base":87.8},{"series":"Fe³⁺ 2p₃/₂","E":716.24,"top":123.7,"base":89},{"series":"Fe³⁺ 2p₃/₂","E":716.72,"top":113.7,"base":90.7},{"series":"Fe³⁺ 2p₃/₂","E":717.26,"top":105.3,"base":92.6},{"series":"Fe³⁺ 2p₃/₂","E":717.81,"top":100.3,"base":94.6},{"series":"Fe³⁺ 2p₃/₂","E":718.49,"top":98,"base":97},
    {"series":"Satellite","E":704.14,"top":50.3,"base":43.7},{"series":"Satellite","E":706.87,"top":57,"base":50.6},{"series":"Satellite","E":709.61,"top":68.7,"base":59.3},{"series":"Satellite","E":711.66,"top":78.7,"base":72.8},{"series":"Satellite","E":713.02,"top":87,"base":77.6},{"series":"Satellite","E":714.25,"top":97,"base":81.9},{"series":"Satellite","E":715.07,"top":105.3,"base":84.9},{"series":"Satellite","E":715.76,"top":115.3,"base":87.3},{"series":"Satellite","E":716.17,"top":123.7,"base":88.8},{"series":"Satellite","E":716.58,"top":132,"base":90.2},{"series":"Satellite","E":716.99,"top":140.3,"base":91.7},{"series":"Satellite","E":717.4,"top":147,"base":93.1},{"series":"Satellite","E":717.81,"top":152,"base":94.6},{"series":"Satellite","E":718.22,"top":153.7,"base":96},{"series":"Satellite","E":718.63,"top":152.7,"base":97.5},{"series":"Satellite","E":719.18,"top":148.7,"base":99.4},{"series":"Satellite","E":719.72,"top":142,"base":101.4},{"series":"Satellite","E":720.27,"top":135.3,"base":103.3},{"series":"Satellite","E":720.68,"top":132,"base":104.8},{"series":"Satellite","E":721.37,"top":125.3,"base":107.2},{"series":"Satellite","E":722.19,"top":120.3,"base":110.2},
    {"series":"Fe²⁺ 2p₁/₂","E":704.14,"top":50.8,"base":43.7},{"series":"Fe²⁺ 2p₁/₂","E":708.24,"top":63,"base":54},{"series":"Fe²⁺ 2p₁/₂","E":710.97,"top":75,"base":70.3},{"series":"Fe²⁺ 2p₁/₂","E":713.71,"top":87,"base":80},{"series":"Fe²⁺ 2p₁/₂","E":715.07,"top":92,"base":84.9},{"series":"Fe²⁺ 2p₁/₂","E":716.44,"top":96,"base":89.7},{"series":"Fe²⁺ 2p₁/₂","E":717.81,"top":101,"base":94.6},{"series":"Fe²⁺ 2p₁/₂","E":718.49,"top":104,"base":97},{"series":"Fe²⁺ 2p₁/₂","E":719.18,"top":108,"base":99.4},{"series":"Fe²⁺ 2p₁/₂","E":719.86,"top":116,"base":101.9},{"series":"Fe²⁺ 2p₁/₂","E":720.68,"top":130,"base":104.8},{"series":"Fe²⁺ 2p₁/₂","E":721.37,"top":143.7,"base":107.2},{"series":"Fe²⁺ 2p₁/₂","E":722,"top":160,"base":109.5},{"series":"Fe²⁺ 2p₁/₂","E":722.51,"top":175.3,"base":111.4},{"series":"Fe²⁺ 2p₁/₂","E":723.27,"top":182,"base":114.3},{"series":"Fe²⁺ 2p₁/₂","E":723.75,"top":179.3,"base":116.1},{"series":"Fe²⁺ 2p₁/₂","E":724.22,"top":172,"base":117.8},{"series":"Fe²⁺ 2p₁/₂","E":724.7,"top":158.7,"base":119.6},{"series":"Fe²⁺ 2p₁/₂","E":725.25,"top":145.3,"base":121.7},
    {"series":"Fe³⁺ 2p₁/₂","E":704.14,"top":50.3,"base":43.7},{"series":"Fe³⁺ 2p₁/₂","E":706.87,"top":57,"base":50.6},{"series":"Fe³⁺ 2p₁/₂","E":709.33,"top":63.7,"base":57},{"series":"Fe³⁺ 2p₁/₂","E":710.97,"top":73.7,"base":70.3},{"series":"Fe³⁺ 2p₁/₂","E":713.71,"top":85.3,"base":80},{"series":"Fe³⁺ 2p₁/₂","E":717.81,"top":98.7,"base":94.6},{"series":"Fe³⁺ 2p₁/₂","E":720.55,"top":117,"base":103.8},{"series":"Fe³⁺ 2p₁/₂","E":721.69,"top":132,"base":109.2},{"series":"Fe³⁺ 2p₁/₂","E":723.06,"top":142,"base":113.5},{"series":"Fe³⁺ 2p₁/₂","E":724.22,"top":172,"base":117.8},{"series":"Fe³⁺ 2p₁/₂","E":724.7,"top":185.3,"base":119.6},{"series":"Fe³⁺ 2p₁/₂","E":725.11,"top":198.7,"base":121.2},{"series":"Fe³⁺ 2p₁/₂","E":725.52,"top":204.3,"base":122.7},{"series":"Fe³⁺ 2p₁/₂","E":725.8,"top":204.3,"base":123.8},{"series":"Fe³⁺ 2p₁/₂","E":726.21,"top":200.3,"base":125.3},{"series":"Fe³⁺ 2p₁/₂","E":726.62,"top":192,"base":126.8},{"series":"Fe³⁺ 2p₁/₂","E":727.03,"top":182,"base":128.4},{"series":"Fe³⁺ 2p₁/₂","E":727.44,"top":173,"base":129.9},{"series":"Fe³⁺ 2p₁/₂","E":727.98,"top":165.3,"base":131.9},{"series":"Fe³⁺ 2p₁/₂","E":728.81,"top":161,"base":135},{"series":"Fe³⁺ 2p₁/₂","E":729.9,"top":159.7,"base":139.1},{"series":"Fe³⁺ 2p₁/₂","E":731.27,"top":161.3,"base":144.3},{"series":"Fe³⁺ 2p₁/₂","E":732.63,"top":163.7,"base":149.4},{"series":"Fe³⁺ 2p₁/₂","E":734,"top":167,"base":154.5},{"series":"Fe³⁺ 2p₁/₂","E":735.37,"top":170.3,"base":159.6},{"series":"Fe³⁺ 2p₁/₂","E":736.74,"top":172.7,"base":164.8},{"series":"Fe³⁺ 2p₁/₂","E":738.1,"top":175.3,"base":169.9},{"series":"Fe³⁺ 2p₁/₂","E":740,"top":179.3,"base":177}
  ]
},
"vconcat": [
  {
    "hconcat": [
      {
        "width": 874, "height": 526,
        "title": {"text": "(a)"},
        "encoding": {
          "x": {"field": "E", "type": "quantitative", "scale": {"domain": [0, 1350], "nice": false, "zero": false},
                "axis": {"title": "Binding energy (eV)", "format": "d", "values": [0,100,200,300,400,500,600,700,800,900,1000,1100,1200,1300], "labelExpr": "datum.value % 200 === 0 ? datum.label : ''", "tickSize": {"condition": {"test": "datum.value % 200 === 0", "value": -9}, "value": -4}, "titleX": 452}},
          "y": {"field": "top", "type": "quantitative", "scale": {"domain": [0, 526], "nice": false, "zero": false}, "axis": {"title": "Intensity (a.u.)", "titlePadding": 39}}
        },
        "layer": [
          {"data": {"name": "survey"}, "mark": {"type": "line", "color": "#FF0000", "strokeWidth": 3.7}, "encoding": {}},
          {"data": {"name": "a_lab"}, "mark": {"type": "text", "font": "Liberation Sans", "fontSize": 36, "fontWeight": "bold", "color": "black", "baseline": "middle", "align": "center"}, "encoding": {"text": {"field": "label"}}}
        ]
      },
      {
        "width": 874, "height": 526,
        "title": {"text": "(b)"},
        "encoding": {
          "x": {"field": "E", "type": "quantitative", "scale": {"domain": [282.03, 300.98], "nice": false, "zero": false},
                "axis": {"title": "Binding energy (eV)", "format": "d", "values": [282.5,285,287.5,290,292.5,295,297.5,300], "labelExpr": "datum.value % 5 === 0 ? datum.label : ''", "tickSize": {"condition": {"test": "datum.value % 5 === 0", "value": -9}, "value": -4}}},
          "y": {"field": "top", "type": "quantitative", "scale": {"domain": [0, 526], "nice": false, "zero": false}, "axis": {"title": "Intensity (a.u.)", "titlePadding": 44}}
        },
        "layer": [
          {"data": {"name": "b_comp"}, "transform": [{"filter": "datum.series === 'C-C'"}], "mark": {"type": "area", "color": "#FF8000", "interpolate": "monotone"}, "encoding": {"y2": {"field": "base"}}},
          {"data": {"name": "b_comp"}, "transform": [{"filter": "datum.series === 'C-N'"}], "mark": {"type": "area", "color": "#0000FF", "interpolate": "monotone"}, "encoding": {"y2": {"field": "base"}}},
          {"data": {"name": "b_comp"}, "transform": [{"filter": "datum.series === 'C-O'"}], "mark": {"type": "area", "color": "#008000", "interpolate": "monotone"}, "encoding": {"y2": {"field": "base"}}},
          {"data": {"name": "b_comp"}, "transform": [{"filter": "datum.series === 'C=O'"}], "mark": {"type": "area", "color": "#FF0080", "interpolate": "monotone"}, "encoding": {"y2": {"field": "base"}}},
          {"data": {"name": "b_env"}, "mark": {"type": "line", "color": "black", "strokeWidth": 4.5, "interpolate": "monotone"}, "encoding": {}},
          {"data": {"name": "b_comp"}, "transform": [{"filter": "false"}], "mark": {"type": "line"},
           "encoding": {"stroke": {"field": "series", "type": "nominal", "scale": {"domain": ["C-C","C-N","C-O","C=O"], "range": ["#FF8000","#0000FF","#008000","#FF0080"]},
             "legend": {"legendX": 630, "legendY": 129}}}},
          {"data": {"name": "b_lab"}, "mark": {"type": "text", "font": "Liberation Sans", "fontSize": 36, "fontWeight": "bold", "color": "black", "baseline": "middle", "align": "center"}, "encoding": {"text": {"field": "label"}}}
        ]
      }
    ],
    "spacing": 119,
    "bounds": "flush",
    "resolve": {"scale": {"stroke": "independent"}, "legend": {"stroke": "independent"}}
  },
  {
    "hconcat": [
      {
        "width": 874, "height": 526,
        "title": {"text": "(c)"},
        "encoding": {
          "x": {"field": "E", "type": "quantitative", "scale": {"domain": [393.53, 413.0], "nice": false, "zero": false},
                "axis": {"title": "Binding energy (eV)", "format": "d", "values": [394,396,398,400,402,404,406,408,410,412], "labelExpr": "datum.value % 4 === 0 ? datum.label : ''", "tickSize": {"condition": {"test": "datum.value % 4 === 0", "value": -9}, "value": -4}}},
          "y": {"field": "top", "type": "quantitative", "scale": {"domain": [0, 526], "nice": false, "zero": false}, "axis": {"title": "Intensity (a.u.)", "titlePadding": 42}}
        },
        "layer": [
          {"data": {"name": "c_comp"}, "transform": [{"filter": "datum.series === 'Pyridinic-N'"}], "mark": {"type": "area", "color": "#FF8000", "interpolate": "monotone"}, "encoding": {"y2": {"field": "base"}}},
          {"data": {"name": "c_comp"}, "transform": [{"filter": "datum.series === 'Pyrrolic-N'"}], "mark": {"type": "area", "color": "#0000FF", "interpolate": "monotone"}, "encoding": {"y2": {"field": "base"}}},
          {"data": {"name": "c_comp"}, "transform": [{"filter": "datum.series === 'Graphitic-N'"}], "mark": {"type": "area", "color": "#008000", "interpolate": "monotone"}, "encoding": {"y2": {"field": "base"}}},
          {"data": {"name": "c_comp"}, "transform": [{"filter": "datum.series === 'N-O'"}], "mark": {"type": "area", "color": "#FF0080", "interpolate": "monotone"}, "encoding": {"y2": {"field": "base"}}},
          {"data": {"name": "c_env"}, "mark": {"type": "line", "color": "black", "strokeWidth": 4.5}, "encoding": {}},
          {"data": {"name": "c_comp"}, "transform": [{"filter": "false"}], "mark": {"type": "line"},
           "encoding": {"stroke": {"field": "series", "type": "nominal", "scale": {"domain": ["Pyridinic-N","Pyrrolic-N","Graphitic-N","N-O"], "range": ["#FF8000","#0000FF","#008000","#FF0080"]},
             "legend": {"legendX": 526, "legendY": 36}}}},
          {"data": {"name": "c_lab"}, "mark": {"type": "text", "font": "Liberation Sans", "fontSize": 36, "fontWeight": "bold", "color": "black", "baseline": "middle", "align": "center"}, "encoding": {"text": {"field": "label"}}}
        ]
      },
      {
        "width": 874, "height": 526,
        "title": {"text": "(d)"},
        "encoding": {
          "x": {"field": "E", "type": "quantitative", "scale": {"domain": [704, 740], "nice": false, "zero": false},
                "axis": {"title": "Binding energy (eV)", "format": "d", "values": [704,708,712,716,720,724,728,732,736], "labelExpr": "datum.value % 8 === 0 ? datum.label : ''", "tickSize": {"condition": {"test": "datum.value % 8 === 0", "value": -9}, "value": -4}, "titleX": 418}},
          "y": {"field": "top", "type": "quantitative", "scale": {"domain": [0, 526], "nice": false, "zero": false}, "axis": {"title": "Intensity (a.u.)", "titlePadding": 44}}
        },
        "layer": [
          {"data": {"name": "d_comp"}, "transform": [{"filter": "datum.series === 'Fe²⁺ 2p₃/₂'"}], "mark": {"type": "area", "color": "#FF0000", "interpolate": "monotone"}, "encoding": {"y2": {"field": "base"}}},
          {"data": {"name": "d_comp"}, "transform": [{"filter": "datum.series === 'Fe³⁺ 2p₃/₂'"}], "mark": {"type": "area", "color": "#008000", "interpolate": "monotone"}, "encoding": {"y2": {"field": "base"}}},
          {"data": {"name": "d_comp"}, "transform": [{"filter": "datum.series === 'Satellite'"}], "mark": {"type": "area", "color": "#0000FF", "interpolate": "monotone"}, "encoding": {"y2": {"field": "base"}}},
          {"data": {"name": "d_comp"}, "transform": [{"filter": "datum.series === 'Fe²⁺ 2p₁/₂'"}], "mark": {"type": "area", "color": "#808000", "interpolate": "monotone"}, "encoding": {"y2": {"field": "base"}}},
          {"data": {"name": "d_comp"}, "transform": [{"filter": "datum.series === 'Fe³⁺ 2p₁/₂'"}], "mark": {"type": "area", "color": "#8000FF", "interpolate": "monotone"}, "encoding": {"y2": {"field": "base"}}},
          {"data": {"name": "d_env"}, "mark": {"type": "line", "color": "black", "strokeWidth": 4}, "encoding": {}},
          {"data": {"name": "d_comp"}, "transform": [{"filter": "false"}], "mark": {"type": "line"},
           "encoding": {"stroke": {"field": "series", "type": "nominal", "scale": {"domain": ["Satellite","Fe²⁺ 2p₃/₂","Fe²⁺ 2p₁/₂"," ","Fe³⁺ 2p₃/₂","Fe³⁺ 2p₁/₂"], "range": ["#0000FF","#FF0000","#808000","rgba(0,0,0,0)","#008000","#8000FF"]},
             "legend": {"legendX": 252.5, "legendY": 17.5, "columns": 2, "columnPadding": 59, "rowPadding": 24}}}},
          {"data": {"name": "d_lab"}, "mark": {"type": "text", "font": "Liberation Sans", "fontSize": 36, "fontWeight": "bold", "color": "black", "baseline": "middle", "align": "center"}, "encoding": {"text": {"field": "label"}}}
        ]
      }
    ],
    "spacing": 119,
    "bounds": "flush",
    "resolve": {"scale": {"stroke": "independent"}, "legend": {"stroke": "independent"}}
  }
],
"spacing": 701,
"bounds": "flush",
"resolve": {"scale": {"stroke": "independent"}, "legend": {"stroke": "independent"}}
}
